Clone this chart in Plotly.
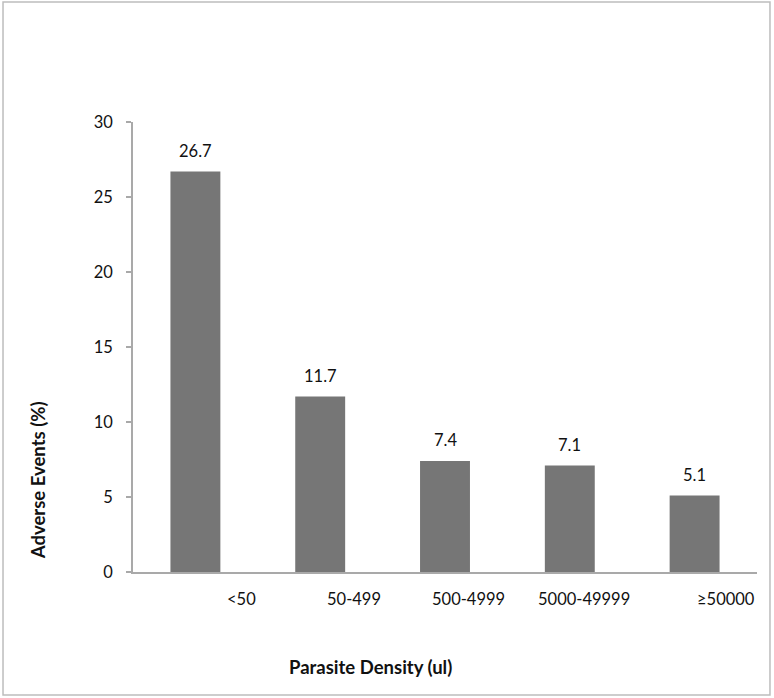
import plotly.graph_objects as go

categories = ["<50", "50-499", "500-4999", "5000-49999", "≥50000"]
adverse_events = [26.7, 11.7, 7.4, 7.1, 5.1]
y_ticks = [0, 5, 10, 15, 20, 25, 30]

FONT = "Lato, 'Open Sans', sans-serif"
BAR = "#767676"
AXIS = "#a9a9a9"

xs = list(range(len(categories)))

fig = go.Figure(go.Bar(x=xs, y=adverse_events, width=0.4, marker_color=BAR,
                       marker_line_width=0, hoverinfo="skip"))

annotations = []
# value labels above bars
for x, v in zip(xs, adverse_events):
    annotations.append(dict(x=x, y=v, text=f"{v:.1f}", showarrow=False,
                            yanchor="middle", yshift=21,
                            font=dict(size=16.5, color="#111", family=FONT)))
# category labels, right-aligned on the category boundary (Excel style)
for x, c in zip(xs, categories):
    annotations.append(dict(x=x + 0.5, y=0, yref="y", text=c, showarrow=False,
                            xanchor="right", yanchor="middle", yshift=-27,
                            font=dict(size=16.5, color="#111", family=FONT)))
# axis titles
annotations.append(dict(x=0.381, y=0, xref="paper", yref="paper", yshift=-95,
                        text="<b>Parasite Density (ul)</b>", showarrow=False,
                        xanchor="center", yanchor="middle",
                        font=dict(size=18.5, color="#111", family=FONT)))
annotations.append(dict(x=0, y=0.204, xref="paper", yref="paper", xshift=-95,
                        text="<b>Adverse Events (%)</b>", textangle=-90,
                        showarrow=False, xanchor="center", yanchor="middle",
                        font=dict(size=18.5, color="#111", family=FONT)))

fig.update_layout(
    width=774, height=698,
    margin=dict(l=133, r=17, t=122, b=126),
    paper_bgcolor="white", plot_bgcolor="white",
    showlegend=False,
    annotations=annotations,
    xaxis=dict(range=[-0.5, len(categories) - 0.5], showticklabels=False,
               showgrid=False, zeroline=False, showline=True,
               linecolor=AXIS, linewidth=1.5, ticks=""),
    yaxis=dict(range=[0, 30], tickvals=y_ticks, showgrid=False, zeroline=False,
               showline=True, linecolor=AXIS, linewidth=1.5,
               ticks="outside", ticklen=5, tickcolor=AXIS, tickwidth=1.5,
               ticklabelstandoff=10,
               tickfont=dict(size=16.5, color="#111", family=FONT)),
    shapes=[dict(type="rect", xref="paper", yref="paper",
                 x0=-0.2083, x1=1.0208, y0=-0.2733, y1=1.2667,
                 line=dict(color="#bdbdbd", width=1.5))],
)

fig.write_html("out.html", config={"displayModeBar": False},
               post_script="document.body.style.margin='0';")
